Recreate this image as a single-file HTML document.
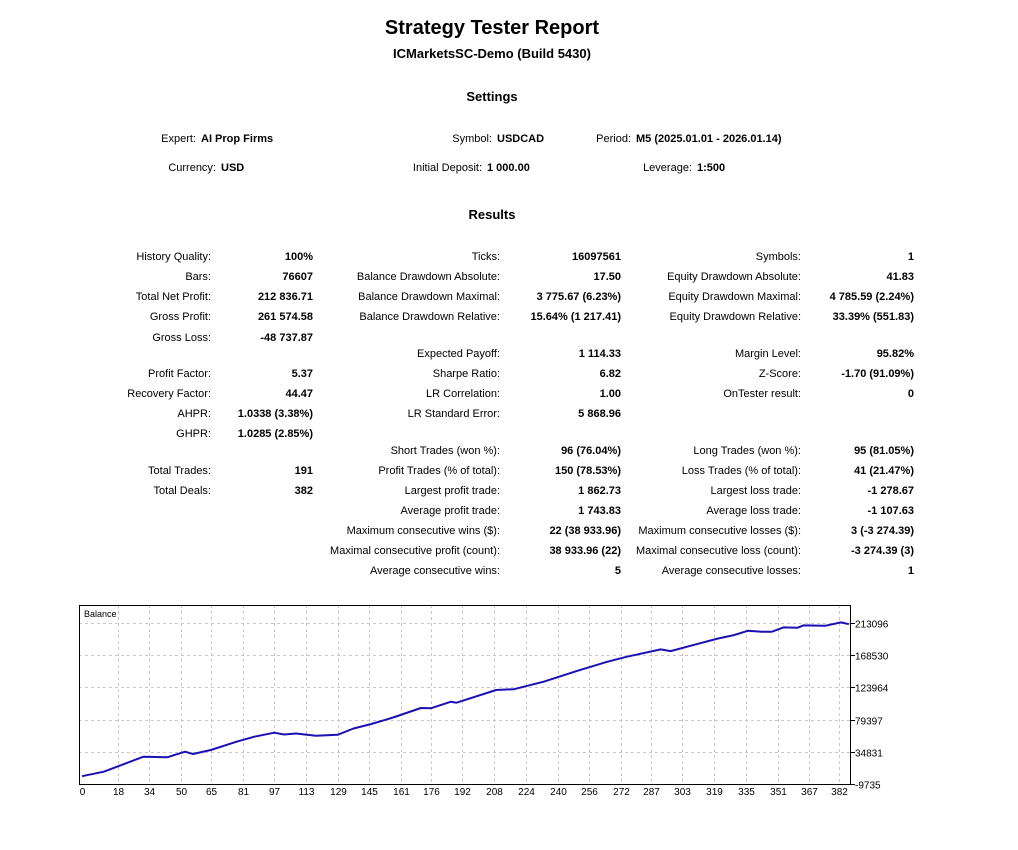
<!DOCTYPE html>
<html><head><meta charset="utf-8">
<style>
body{margin:0;width:1018px;height:850px;background:#fff;font-family:"Liberation Sans",sans-serif;color:#000;position:relative;overflow:hidden}
.t{position:absolute;font-size:11px;line-height:14px;white-space:nowrap}
.r{text-align:right}
.b{font-weight:bold}
.h{position:absolute;left:0;width:984px;text-align:center;font-weight:bold;white-space:nowrap}
</style></head><body>
<div class="h" style="top:16px;font-size:20px;line-height:24px">Strategy Tester Report</div>
<div class="h" style="top:46px;font-size:13px;line-height:16px">ICMarketsSC-Demo (Build 5430)</div>
<div class="h" style="top:89px;font-size:13px;line-height:16px">Settings</div>
<div class="h" style="top:207px;font-size:13px;line-height:16px">Results</div>
<div id="rows"></div>
<svg id="chart" width="1018" height="850" style="position:absolute;left:0;top:0"></svg>
<script>
const settingLabels=["Expert:","Symbol:","Period:","Currency:","Initial Deposit:","Leverage:"];
const settingValues=["AI Prop Firms","USDCAD","M5 (2025.01.01 - 2026.01.14)","USD","1 000.00","1:500"];
const settingX=[196,492,631,216,482,692];
const settingY=[139,139,139,168,168,168];
const root=document.getElementById('rows');
function mk(txt,cls,css){const d=document.createElement('div');d.className='t '+cls;d.textContent=txt;d.style.cssText=css;root.appendChild(d);return d;}
for(let i=0;i<settingLabels.length;i++){
  const a=mk(settingLabels[i],'r','right:'+(1018-settingX[i])+'px;top:'+(settingY[i]-7)+'px');
  
  
  const v=mk(settingValues[i],'b','left:'+(settingX[i]+5)+'px;top:'+(settingY[i]-7)+'px');
  
  
}
const colA=[["History Quality:","100%",257],["Bars:","76607",277],["Total Net Profit:","212 836.71",297],["Gross Profit:","261 574.58",317],["Gross Loss:","-48 737.87",338],["Profit Factor:","5.37",374],["Recovery Factor:","44.47",394],["AHPR:","1.0338 (3.38%)",414],["GHPR:","1.0285 (2.85%)",434],["Total Trades:","191",471],["Total Deals:","382",491]];
const colB=[["Ticks:","16097561",257],["Balance Drawdown Absolute:","17.50",277],["Balance Drawdown Maximal:","3 775.67 (6.23%)",297],["Balance Drawdown Relative:","15.64% (1 217.41)",317],["Expected Payoff:","1 114.33",354],["Sharpe Ratio:","6.82",374],["LR Correlation:","1.00",394],["LR Standard Error:","5 868.96",414],["Short Trades (won %):","96 (76.04%)",451],["Profit Trades (% of total):","150 (78.53%)",471],["Largest profit trade:","1 862.73",491],["Average profit trade:","1 743.83",511],["Maximum consecutive wins ($):","22 (38 933.96)",531],["Maximal consecutive profit (count):","38 933.96 (22)",551],["Average consecutive wins:","5",571]];
const colC=[["Symbols:","1",257],["Equity Drawdown Absolute:","41.83",277],["Equity Drawdown Maximal:","4 785.59 (2.24%)",297],["Equity Drawdown Relative:","33.39% (551.83)",317],["Margin Level:","95.82%",354],["Z-Score:","-1.70 (91.09%)",374],["OnTester result:","0",394],["Long Trades (won %):","95 (81.05%)",451],["Loss Trades (% of total):","41 (21.47%)",471],["Largest loss trade:","-1 278.67",491],["Average loss trade:","-1 107.63",511],["Maximum consecutive losses ($):","3 (-3 274.39)",531],["Maximal consecutive loss (count):","-3 274.39 (3)",551],["Average consecutive losses:","1",571]];
const cols=[[colA,211,313],[colB,500,621],[colC,801,914]];
for(const [col,lx,vx] of cols){
  for(const [l,v,y] of col){
    const a=mk(l,'r','right:'+(1018-lx)+'px;top:'+(y-7)+'px');
    
    
    const b=mk(v,'r b','right:'+(1018-vx)+'px;top:'+(y-7)+'px');
    
    
  }
}
</script>
<script>
const trades=[0,11,31,43,52,56,65,78,87,97,102,108,118,129,137,146,157,171,176,186,189,209,218,233,250,265,275,292,297,307,321,329,336,343,348,354,361,364,375,383,387];
const balance=[1000,7300,28000,27200,35000,31800,37300,48800,55700,61300,58800,60100,57000,58400,67100,73300,82300,95400,95000,104000,102800,120400,121500,131800,147000,159400,166400,176500,174200,181500,191700,196300,202300,200900,200900,207000,206500,209800,209200,213900,211500];
const yTicks=[213096,168530,123964,79397,34831,-9735];
const xTicks=[0,18,34,50,65,81,97,113,129,145,161,176,192,208,224,240,256,272,287,303,319,335,351,367,382];
const L=79,T=605,R=851,B=784;
const xs=v=>82+v*(839-82)/382;
const ys=v=>B-(v-(-9735))*(B-623)/(213096-(-9735));
const svg=document.getElementById('chart');
const NS='http://www.w3.org/2000/svg';
function el(n,a){const e=document.createElementNS(NS,n);for(const k in a)e.setAttribute(k,a[k]);svg.appendChild(e);return e;}
for(const v of yTicks){
  const y=Math.round(ys(v))+0.5;
  if(v!==-9735){const g=el('line',{x1:L,x2:R,y1:y,y2:y,stroke:'#c8c8c8','stroke-dasharray':'3,3'});
  
  }
  el('line',{x1:R,x2:R+4,y1:y,y2:y,stroke:'#000'});
  const t=el('text',{x:R+4,y:y+4,'font-size':'10','font-family':'Liberation Sans, sans-serif'});
  t.textContent=(v<0?'-':'')+Math.abs(v);
  
  
}
for(const v of xTicks){
  const x=Math.round(xs(v))+0.5;
  if(v!==0){const g=el('line',{x1:x,x2:x,y1:T,y2:B,stroke:'#c8c8c8','stroke-dasharray':'3,3'});
  
  }
  const t=el('text',{x:x,y:795,'font-size':'10','text-anchor':'middle','font-family':'Liberation Sans, sans-serif'});
  t.textContent=v;
  
  
}
const frame=el('rect',{x:L+0.5,y:T+0.5,width:R-L-1,height:B-T,fill:'none',stroke:'#000'});


const lt=el('text',{x:84,y:617,'font-size':'9','font-family':'Liberation Sans, sans-serif'});
lt.textContent='Balance';


let d='';
for(let i=0;i<trades.length;i++){d+=(i?'L':'M')+Math.min(xs(trades[i]),R-1).toFixed(1)+','+ys(balance[i]).toFixed(1);}
const p=el('path',{d:d,fill:'none',stroke:'#1c0fb4','stroke-width':'2','stroke-linejoin':'round'});


</script>
</body></html>
